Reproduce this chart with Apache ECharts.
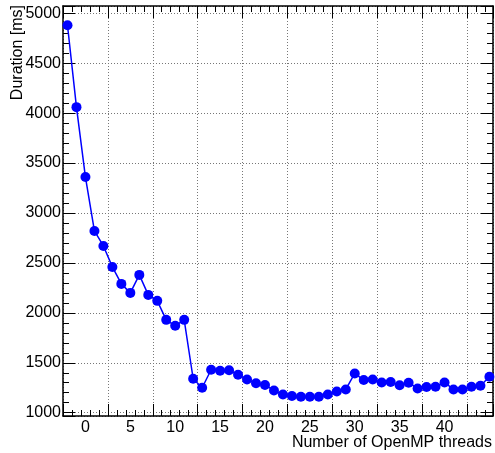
<!DOCTYPE html>
<html><head><meta charset="utf-8">
<script src="https://cdn.jsdelivr.net/npm/echarts@6/dist/echarts.min.js"></script>
<style>html,body{margin:0;padding:0;background:#fff;} #c{width:495px;height:453px;}</style>
</head><body><div id="c"></div>
<script>
// Thread values as labelled on the x axis
const threads = [-2,-1,0,1,2,3,4,5,6,7,8,9,10,11,12,13,14,15,16,17,18,19,20,21,22,23,24,25,26,27,28,29,30,31,32,33,34,35,36,37,38,39,40,41,42,43,44,45];
// Duration in ms
const durationMs = [4880,4060,3360,2820,2670,2460,2290,2200,2380,2180,2120,1930,1870,1930,1340,1250,1430,1420,1425,1380,1333,1295,1278,1223,1183,1167,1160,1160,1160,1182,1212,1233,1393,1327,1333,1302,1308,1275,1300,1243,1257,1260,1303,1233,1232,1260,1270,1360];
const xTickLabels = [0,5,10,15,20,25,30,35,40];
const yTickLabels = [1000,1500,2000,2500,3000,3500,4000,4500,5000];

const FONT = '"Liberation Sans", Arial, Helvetica, sans-serif';
const gridStyle = { color: '#777', width: 1, type: [1, 2] };
const frame = { show: true, onZero: false, lineStyle: { color: '#000', width: 1.5 } };
const majorTick = { show: true, inside: true, length: 12, lineStyle: { color: '#000', width: 1 } };
const minorTick = { show: true, splitNumber: 5, length: 6, lineStyle: { color: '#000', width: 1 } };

const chart = echarts.init(document.getElementById('c'), null, { renderer: 'canvas' });
chart.setOption({
  animation: false,
  backgroundColor: '#fff',
  grid: { left: 63, right: 2, top: 6, bottom: 37, containLabel: false },
  xAxis: [
    { type: 'value', position: 'bottom', min: 0, max: 47.9, interval: 5,
      axisLine: frame, axisTick: majorTick, minorTick: minorTick,
      splitLine: { show: true, lineStyle: gridStyle }, axisLabel: { show: false } },
    { type: 'value', position: 'bottom', min: -2.5, max: 45.4, splitNumber: 10,
      axisLine: { show: false, onZero: false }, axisTick: { show: false }, splitLine: { show: false },
      axisLabel: { show: true, margin: 4, fontSize: 16, fontFamily: FONT, color: '#000',
        showMinLabel: false, showMaxLabel: false,
        formatter: v => xTickLabels.indexOf(v) >= 0 ? String(v) : '' } },
    { type: 'value', position: 'top', min: 0, max: 47.9, interval: 5,
      axisLine: frame, axisTick: majorTick, minorTick: minorTick,
      splitLine: { show: false }, axisLabel: { show: false } }
  ],
  yAxis: [
    { type: 'value', position: 'left', min: 967, max: 5073, splitNumber: 8,
      axisLine: frame, axisTick: majorTick, minorTick: minorTick,
      splitLine: { show: true, lineStyle: gridStyle },
      axisLabel: { show: true, margin: 2, fontSize: 16, fontFamily: FONT, color: '#000',
        showMinLabel: false, showMaxLabel: false,
        formatter: v => yTickLabels.indexOf(v) >= 0 ? String(v) : '' } },
    { type: 'value', position: 'right', min: 967, max: 5073, splitNumber: 8,
      axisLine: frame, axisTick: majorTick, minorTick: minorTick,
      splitLine: { show: false }, axisLabel: { show: false } }
  ],
  series: [{
    type: 'line', xAxisIndex: 1, yAxisIndex: 0,
    data: threads.map((t, i) => [t, durationMs[i]]),
    symbol: 'circle', symbolSize: 10, showSymbol: true,
    lineStyle: { color: '#0000ff', width: 1.5 },
    itemStyle: { color: '#0000ff' },
    emphasis: { disabled: true }
  }],
  graphic: [
    { type: 'text', x: 18, y: 5, rotation: Math.PI / 2,
      style: { text: 'Duration [ms]', font: '16px ' + FONT, fill: '#000', align: 'right', verticalAlign: 'middle' } },
    { type: 'text', x: 492, y: 443,
      style: { text: 'Number of OpenMP threads', font: '16px ' + FONT, fill: '#000', align: 'right', verticalAlign: 'middle' } }
  ]
});
</script></body></html>
